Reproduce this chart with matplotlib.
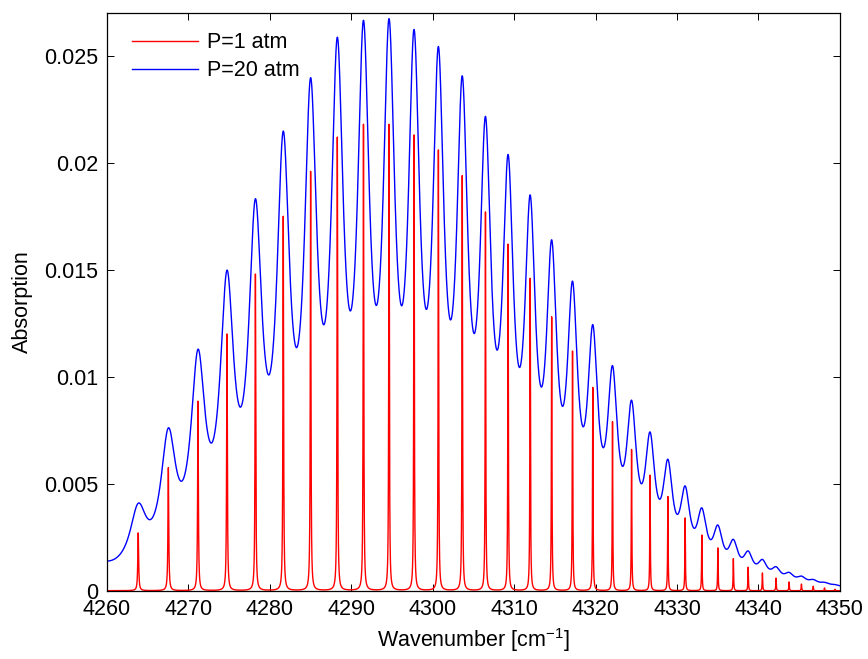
import numpy as np
import matplotlib
matplotlib.use('Agg')
import matplotlib.pyplot as plt

plt.rcParams['font.family'] = ['Liberation Sans', 'DejaVu Sans']
plt.rcParams['mathtext.default'] = 'regular'

# R-branch lines seen in the plot: centre [cm-1] and peak absorption
r_center = [4263.84, 4267.54, 4271.18, 4274.74, 4278.23, 4281.65, 4285.01, 4288.29,
            4291.50, 4294.64, 4297.71, 4300.70, 4303.63, 4306.48, 4309.26, 4311.97,
            4314.61, 4317.17, 4319.66, 4322.08, 4324.42, 4326.69, 4328.88, 4331.00,
            4333.05, 4335.02, 4336.92, 4338.74, 4340.49, 4342.16, 4343.76, 4345.28,
            4346.73, 4348.11, 4349.41]
r_peak = [0.0027, 0.00575, 0.00886, 0.0120, 0.0148, 0.0175, 0.0196, 0.0212,
          0.0218, 0.0218, 0.0213, 0.0206, 0.0194, 0.0177, 0.0162, 0.0146,
          0.0128, 0.0112, 0.0095, 0.0079, 0.0066, 0.0054, 0.0044, 0.0034,
          0.0026, 0.0020, 0.0015, 0.0011, 0.00083, 0.00059, 0.00041, 0.00031,
          0.00021, 0.00013, 0.00007]
# half widths at 1 atm [cm-1]
r_hwhm = [0.0614, 0.0569, 0.0539, 0.0519, 0.0502, 0.0486, 0.0474, 0.0462,
          0.0452, 0.0443, 0.0436, 0.0428, 0.0421, 0.0415, 0.0410, 0.0404,
          0.0399, 0.0394, 0.0390, 0.0385, 0.0381, 0.0377, 0.0373, 0.0370,
          0.0366, 0.0363, 0.0360, 0.0357, 0.0354, 0.0351, 0.0348, 0.0344,
          0.0341, 0.0338, 0.0335]

# P-branch lines below 4260 (off the plot, they lift the 20 atm wing)
p_center = [4256.22, 4252.30, 4248.32, 4244.26, 4240.14, 4235.95, 4231.69, 4227.36,
            4222.97, 4218.51, 4213.99, 4209.40, 4204.75, 4200.03, 4195.25, 4190.40,
            4185.49, 4180.52, 4175.49, 4170.39]
p_peak = [0.0029, 0.0058, 0.0087, 0.0113, 0.0135, 0.0152, 0.0164, 0.0170,
          0.0170, 0.0166, 0.0158, 0.0146, 0.0133, 0.0118, 0.0103, 0.0089,
          0.0075, 0.0062, 0.0050, 0.0040]
p_hwhm = [0.0614, 0.0569, 0.0539, 0.0519, 0.0502, 0.0486, 0.0474, 0.0462,
          0.0452, 0.0443, 0.0436, 0.0428, 0.0421, 0.0415, 0.0410, 0.0404,
          0.0399, 0.0394, 0.0390, 0.0385]

pressures = [1, 20]
labels = ['P=1 atm', 'P=20 atm']
colors = ['#ff0000', '#0000ff']

x_tick = [4260, 4270, 4280, 4290, 4300, 4310, 4320, 4330, 4340, 4350]
y_tick = [0, 0.005, 0.01, 0.015, 0.02, 0.025]
y_tick_labels = ['0', '0.005', '0.01', '0.015', '0.02', '0.025']

centers = np.array(r_center + p_center)
peaks = np.array(r_peak + p_peak)
hwhm = np.array(r_hwhm + p_hwhm)

nu = np.linspace(4260, 4350, 45001)


def spectrum(p):
    # lorentz lines, peak height stays the same, width grows with pressure
    g = hwhm[:, None] * p
    d = nu[None, :] - centers[:, None]
    return (peaks[:, None] * g**2 / (d**2 + g**2)).sum(axis=0)


fig = plt.figure(figsize=(8.68, 6.59), dpi=100)
ax = fig.add_axes([0.1232, 0.1036, 0.8444, 0.8762])

for p, lab, c in zip(pressures, labels, colors):
    ax.plot(nu, spectrum(p), color=c, lw=1.0, label=lab)

ax.set_xlim(4260, 4350)
ax.set_ylim(0, 0.027)
ax.set_xticks(x_tick)
ax.set_xticklabels([str(t) for t in x_tick])
ax.set_yticks(y_tick)
ax.set_yticklabels(y_tick_labels)
ax.tick_params(direction='in', length=5, width=0.7, top=True, right=True,
               labelsize=15.5, pad=6)
for s in ax.spines.values():
    s.set_linewidth(0.9)

ax.set_xlabel('Wavenumber [cm$^{-1}$]', fontsize=15.5, labelpad=4)
ax.set_ylabel('Absorption', fontsize=15.5, labelpad=8)

ax.legend(loc='upper left', bbox_to_anchor=(0.034, 0.967), frameon=False,
          fontsize=15.5, handlelength=3.07, handletextpad=0.4,
          labelspacing=0.33, borderpad=0, borderaxespad=0)

fig.savefig('out.png', dpi=100)
